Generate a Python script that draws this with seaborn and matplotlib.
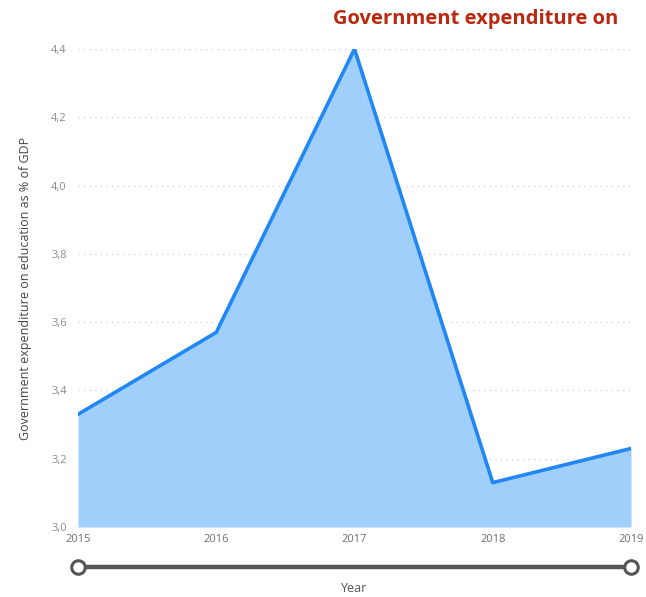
import matplotlib
matplotlib.use("Agg")
import matplotlib.pyplot as plt
import matplotlib.ticker as mticker
import seaborn as sns
import pandas as pd

years = [2015, 2016, 2017, 2018, 2019]
expenditure = [3.33, 3.57, 4.40, 3.13, 3.23]
y_ticks = [3.0, 3.2, 3.4, 3.6, 3.8, 4.0, 4.2, 4.4]

title = "Government expenditure on"
y_label = "Government expenditure on education as % of GDP"
x_label = "Year"

df = pd.DataFrame({"Year": years, "Value": expenditure})

sns.set_theme(style="white")
plt.rcParams["font.family"] = ["Open Sans", "DejaVu Sans"]

W, H = 646, 597
fig = plt.figure(figsize=(W / 100, H / 100), dpi=100)
left, right = 78 / W, 631 / W
bottom, top = 1 - 527 / H, 1 - 49 / H
ax = fig.add_axes([left, bottom, right - left, top - bottom])

line_col = "#2188F3"
fill_col = "#A0CFFC"

ax.fill_between(df["Year"], df["Value"], 3.0, color=fill_col, linewidth=0, zorder=1)
sns.lineplot(data=df, x="Year", y="Value", ax=ax, color=line_col, linewidth=2.6, zorder=3)

ax.set_xlim(years[0], years[-1])
ax.set_ylim(y_ticks[0], y_ticks[-1])
ax.set_yticks(y_ticks)
ax.set_xticks(years)
ax.yaxis.set_major_formatter(mticker.FuncFormatter(lambda v, p: f"{v:.1f}".replace(".", ",")))
ax.grid(axis="y", color="#d6d6d6", linestyle=(0, (1, 3)), linewidth=1.0, zorder=0)
ax.grid(axis="x", visible=False)
for s in ax.spines.values():
    s.set_visible(False)
ax.tick_params(axis="both", length=0, labelsize=8, labelcolor="#8a8a8a")
ax.tick_params(axis="x", pad=5, labelcolor="#6f6f6f")
ax.tick_params(axis="y", pad=8)
ax.set_xlabel("")
ax.set_ylabel(y_label, fontsize=9, color="#444444", labelpad=14)

fig.text(333 / W, 1 - 19 / H, title, fontsize=14.5, fontweight="bold",
         color="#B8290F", ha="left", va="center")

# year range slider beneath the chart
sax = fig.add_axes([left, 1 - 575 / H, right - left, 16 / H], sharex=ax)
sax.plot([years[0], years[-1]], [0, 0], color="#555555", linewidth=3.2, solid_capstyle="butt", zorder=1)
sax.scatter([years[0], years[-1]], [0, 0], s=95, facecolor="white", edgecolor="#555555", linewidth=2.2, zorder=2, clip_on=False)
sax.set_ylim(-1, 1)
sax.axis("off")
fig.text((left + right) / 2, 1 - 589 / H, x_label, fontsize=9, color="#555555", ha="center", va="center")

fig.savefig("out.png", dpi=100)
